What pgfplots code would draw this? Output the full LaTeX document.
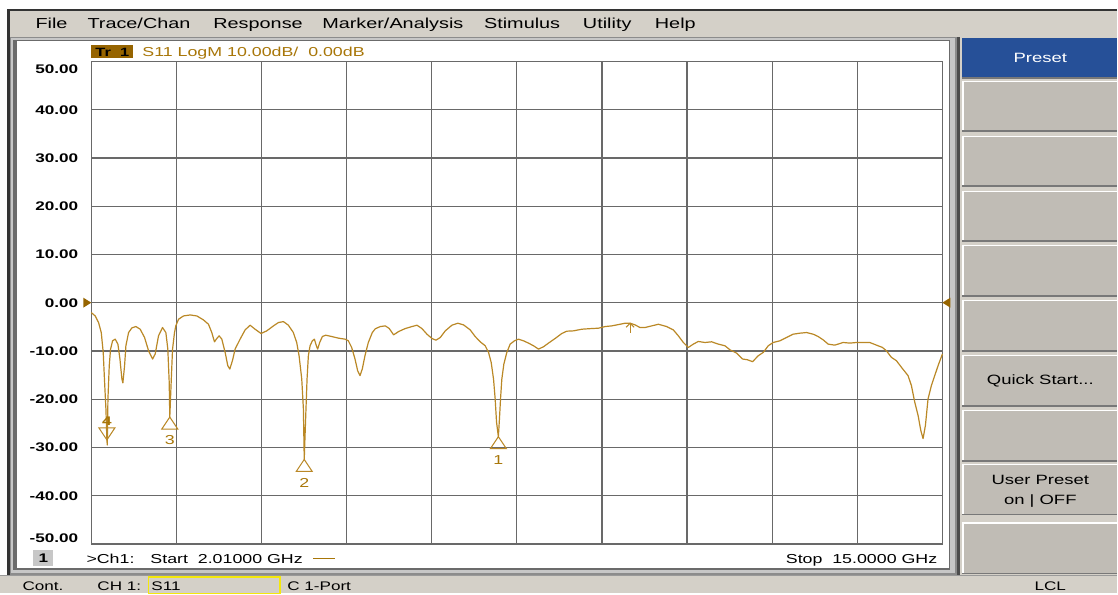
\documentclass[border=0pt]{standalone}
\usepackage{pgfplots}
\pgfplotsset{compat=1.18}
\usepackage{pgfplotstable}
\usepackage{fontspec}
\setmainfont[FakeStretch=1.37]{Liberation Sans}
\definecolor{uibg}{RGB}{212,208,200}
\definecolor{btn}{RGB}{192,188,181}
\definecolor{btndark}{RGB}{120,120,120}
\definecolor{preset}{RGB}{38,80,152}
\definecolor{trc}{RGB}{186,136,38}
\definecolor{gold}{RGB}{168,118,8}
\definecolor{trbox}{RGB}{150,100,0}
\definecolor{gridc}{RGB}{105,105,105}
\newcommand\fs[1]{\fontsize{#1}{#1}\selectfont}
\newcommand\yl[2]{\smash{\raisebox{#1}{#2}}}

\pgfplotstableread{
f dB
2.010 -2.06
2.070 -2.75
2.121 -4.12
2.162 -6.19
2.192 -10.31
2.213 -16.49
2.233 -21.99
2.248 -28.44
2.254 -29.50
2.264 -19.93
2.284 -13.06
2.304 -9.62
2.335 -7.90
2.375 -7.56
2.416 -8.59
2.447 -11.68
2.477 -15.81
2.492 -16.63
2.518 -13.06
2.538 -8.93
2.579 -6.19
2.630 -5.22
2.691 -4.95
2.756 -5.50
2.823 -7.22
2.884 -9.97
2.945 -11.68
2.985 -10.65
3.036 -6.87
3.097 -5.15
3.148 -6.19
3.178 -9.62
3.199 -16.49
3.208 -23.71
3.229 -16.49
3.250 -9.62
3.280 -6.19
3.300 -4.81
3.341 -3.44
3.417 -2.75
3.519 -2.54
3.621 -2.75
3.722 -3.57
3.798 -4.47
3.849 -6.19
3.890 -8.11
3.926 -7.42
3.961 -6.87
4.002 -7.56
4.053 -10.31
4.093 -13.06
4.124 -13.75
4.164 -12.03
4.205 -9.62
4.281 -7.56
4.358 -5.64
4.434 -4.67
4.510 -5.50
4.601 -6.39
4.688 -5.84
4.790 -4.81
4.866 -4.12
4.942 -3.92
5.018 -4.67
5.094 -6.19
5.145 -8.25
5.181 -10.99
5.222 -15.81
5.247 -21.99
5.260 -32.50
5.283 -23.37
5.303 -15.81
5.323 -10.99
5.349 -8.93
5.384 -7.90
5.415 -7.56
5.445 -8.93
5.465 -9.62
5.496 -8.25
5.537 -7.01
5.587 -6.74
5.679 -7.01
5.781 -7.35
5.882 -7.56
5.933 -7.90
5.984 -9.28
6.035 -11.68
6.075 -14.09
6.111 -15.12
6.146 -13.75
6.187 -10.99
6.238 -8.25
6.299 -6.19
6.345 -5.40
6.421 -4.95
6.497 -4.81
6.558 -5.36
6.624 -6.67
6.701 -5.98
6.802 -5.36
6.904 -4.95
6.980 -4.67
7.056 -5.36
7.133 -6.53
7.209 -7.42
7.270 -7.77
7.336 -7.22
7.412 -5.84
7.514 -4.67
7.605 -4.26
7.692 -4.60
7.793 -5.64
7.869 -7.01
7.946 -8.11
8.022 -8.93
8.073 -10.31
8.113 -12.37
8.149 -15.81
8.174 -19.93
8.195 -24.74
8.223 -27.77
8.240 -24.00
8.256 -19.93
8.276 -15.81
8.307 -12.71
8.352 -10.31
8.403 -8.59
8.469 -7.90
8.530 -7.56
8.606 -7.90
8.683 -8.38
8.759 -8.93
8.835 -9.62
8.911 -9.14
8.988 -8.38
9.089 -7.42
9.191 -6.39
9.267 -5.91
9.369 -5.84
9.496 -5.50
9.648 -5.36
9.750 -5.29
9.852 -4.95
9.953 -4.81
10.055 -4.54
10.156 -4.26
10.233 -4.26
10.309 -4.60
10.385 -5.15
10.461 -5.15
10.563 -4.81
10.665 -4.47
10.792 -4.95
10.893 -5.64
10.970 -6.87
11.046 -8.25
11.122 -9.28
11.198 -8.59
11.275 -8.04
11.376 -8.25
11.478 -8.11
11.580 -8.59
11.681 -8.93
11.757 -9.76
11.859 -10.45
11.951 -11.68
12.022 -11.82
12.103 -12.23
12.189 -11.00
12.266 -10.31
12.342 -8.93
12.418 -8.25
12.520 -7.90
12.621 -7.22
12.723 -6.53
12.825 -6.32
12.926 -6.19
13.028 -6.53
13.104 -7.01
13.180 -7.70
13.257 -8.59
13.358 -8.80
13.485 -8.25
13.587 -8.38
13.689 -8.25
13.790 -8.25
13.892 -8.25
13.994 -8.80
14.085 -9.28
14.146 -9.97
14.222 -11.34
14.299 -12.03
14.375 -13.40
14.476 -15.12
14.527 -17.18
14.578 -20.62
14.629 -23.37
14.670 -26.46
14.705 -28.18
14.741 -25.43
14.781 -19.93
14.832 -17.18
14.883 -15.12
14.934 -13.06
15.000 -10.65
}\trace

\begin{document}
\begin{tikzpicture}
\begin{scope}[x=1pt,y=-1pt]
% background
\fill[white] (0,0) rectangle (1118,594);
% top frame line and menu bar
\fill[black!80] (7,9.5) rectangle (1118,11.5);
\fill[uibg] (9.5,11.5) rectangle (1118,37);
% left outer dark line
\fill[black!80] (7,9.5) rectangle (9.5,576);
% window frame
\fill[black!45] (9.5,37) rectangle (958,576);
\fill[black!22] (10.5,38) rectangle (956,574);
\fill[black!58] (13,40) rectangle (951,571);
\fill[white] (16.5,41.5) rectangle (950,569);
% softkey panel
\fill[uibg] (958,37) rectangle (1118,576);
\fill[black!70] (958,37) rectangle (960.5,576);
\foreach \ya/\yb in {81/132,136/187,191/242,245/297,300/352,355/407,410/462,464/516,523/575}{
  \fill[btn] (963,\ya) rectangle (1118,\yb);
  \draw[white, line width=1.2pt] (963,\ya+0.6) -- (1118,\ya+0.6);
  \draw[white, line width=1.2pt] (963.6,\ya) -- (963.6,\yb);
  \draw[btndark, line width=1.6pt] (963,\yb-0.8) -- (1118,\yb-0.8);
}
\fill[preset] (963,38) rectangle (1118,78);
\draw[btndark, line width=1.6pt] (963,78) -- (1118,78);
\node[text=white, font=\fs{13.5}] at (1041,58) {Preset};
\node[font=\fs{13.5}] at (1041,381) {Quick Start...};
\node[font=\fs{13.5}] at (1041,480) {User Preset};
\node[font=\fs{13.5}] at (1041,502) {on | OFF};
% status bar
\fill[uibg] (0,576) rectangle (1118,594);
\draw[black!40, line width=0.8pt] (0,576.4) -- (1118,576.4);
\draw[yellow!95!black, line width=1.3pt] (148.5,577.5) rectangle (280,594);
\node[anchor=base west, font=\fs{12.5}, inner sep=0pt] at (22,591) {Cont.};
\node[anchor=base west, font=\fs{12.5}, inner sep=0pt] at (97,591) {CH 1:};
\node[anchor=base west, font=\fs{12.5}, inner sep=0pt] at (151,591) {S11};
\node[anchor=base west, font=\fs{12.5}, inner sep=0pt] at (287,591) {C 1-Port};
\node[anchor=base west, font=\fs{12.5}, inner sep=0pt] at (1035,591) {LCL};
% menu
\foreach \xx/\tt in {35/File,87/Trace\slash Chan,213/Response,322/Marker\slash Analysis,484/Stimulus,583/Utility,655/Help}{
  \node[anchor=base west, font=\fs{14.5}, inner sep=0pt] at (\xx,28.5) {\tt};
}
% trace title
\fill[trbox] (91,45) rectangle (133,58.5);
\node[anchor=base west, font=\bfseries\fs{12}, inner sep=0pt] at (95,56.5) {Tr\ \ 1};
\node[anchor=base west, font=\fs{13}, text=gold, inner sep=0pt] at (142,56.5) {S11 LogM 10.00dB/\ \ 0.00dB};
% bottom line
\fill[black!22] (33,551) rectangle (53,567);
\node[font=\bfseries\fs{12.5}] at (43,559) {1};
\node[anchor=base west, font=\fs{13}, inner sep=0pt] at (86,564) {>Ch1:};
\node[anchor=base west, font=\fs{13}, inner sep=0pt] at (150,564) {Start\ \ 2.01000 GHz};
\draw[gold, line width=1.5pt] (313,559) -- (335,559);
\node[anchor=base east, font=\fs{13}, inner sep=0pt] at (938,564) {Stop\ \ 15.0000 GHz};
% marker table
\foreach \yy/\a/\b/\c in {72.5/1:/8.223 GHz/-27.77 dB,88.5/2:/5.260 GHz/-32.50 dB,105/3:/3.208 GHz/-23.71 dB,120.5/> 4:/2.248 GHz/-28.44 dB}{
  \node[anchor=base east, font=\fs{12.5}, text=gold, inner sep=0pt] at (683,\yy) {\a};
  \node[anchor=base east, font=\fs{12.5}, text=gold, inner sep=0pt] at (823,\yy) {\b};
  \node[anchor=base east, font=\fs{12.5}, text=gold, inner sep=0pt] at (937,\yy) {\c};
}
\end{scope}

\begin{axis}[
  at={(91pt,-544.5pt)}, anchor=south west,
  width=852pt, height=483pt, scale only axis,
  xmin=2.01, xmax=15, ymin=-50, ymax=50,
  xtick={2.01,3.309,4.608,5.907,7.206,8.505,9.804,11.103,12.402,13.701,15},
  xticklabels={},
  ytick={-50,-40,...,50},
  yticklabels={\yl{1.4pt}{-50.00},\yl{-4.5pt}{-40.00},\yl{-4.5pt}{-30.00},\yl{-4.5pt}{-20.00},\yl{-4.5pt}{-10.00},\yl{-4.5pt}{0.00},\yl{-4.5pt}{10.00},\yl{-4.5pt}{20.00},\yl{-4.5pt}{30.00},\yl{-4.5pt}{40.00},\yl{-12pt}{50.00}},
  yticklabel style={anchor=east, inner sep=0pt, xshift=-13pt, font=\bfseries\fs{12.5}},
  tick style={draw=none},
  grid=major,
  major grid style={draw=gridc, line width=1.2pt},
  axis line style={draw=gridc, line width=1.2pt},
  axis background/.style={fill=white},
  clip=false,
]
\addplot[trc, line width=1.2pt, line join=round, mark=none] table[x=f, y=dB] {\trace};
% reference arrows
\fill[trbox] (axis cs:2.01,0) -- ++(-8pt,5pt) -- ++(0pt,-10pt) -- cycle;
\fill[trbox] (axis cs:15,0) -- ++(8pt,5pt) -- ++(0pt,-10pt) -- cycle;
% markers
\draw[trc, line width=1pt] (axis cs:2.248,-28.44) -- ++(-8pt,12pt) -- ++(16pt,0pt) -- cycle;
\node[text=gold, font=\bfseries\fs{12.5}] at ([yshift=19pt]axis cs:2.248,-28.44) {4};
\draw[trc, line width=1pt] (axis cs:3.208,-23.71) -- ++(-8pt,-12pt) -- ++(16pt,0pt) -- cycle;
\node[text=gold, font=\fs{13}] at ([yshift=-23pt]axis cs:3.208,-23.71) {3};
\draw[trc, line width=1pt] (axis cs:5.260,-32.50) -- ++(-8pt,-12pt) -- ++(16pt,0pt) -- cycle;
\node[text=gold, font=\fs{13}] at ([yshift=-24pt]axis cs:5.260,-32.50) {2};
\draw[trc, line width=1pt] (axis cs:8.223,-27.77) -- ++(-8pt,-12pt) -- ++(16pt,0pt) -- cycle;
\node[text=gold, font=\fs{13}] at ([yshift=-23pt]axis cs:8.223,-27.77) {1};
\draw[trc, line width=1pt] (axis cs:10.233,-4.26) -- ++(0pt,-10pt);
\draw[trc, line width=1pt] ([xshift=-4pt,yshift=-4pt]axis cs:10.233,-4.26) -- (axis cs:10.233,-4.26) -- ([xshift=4pt,yshift=-4pt]axis cs:10.233,-4.26);
\end{axis}
\end{tikzpicture}
\end{document}
